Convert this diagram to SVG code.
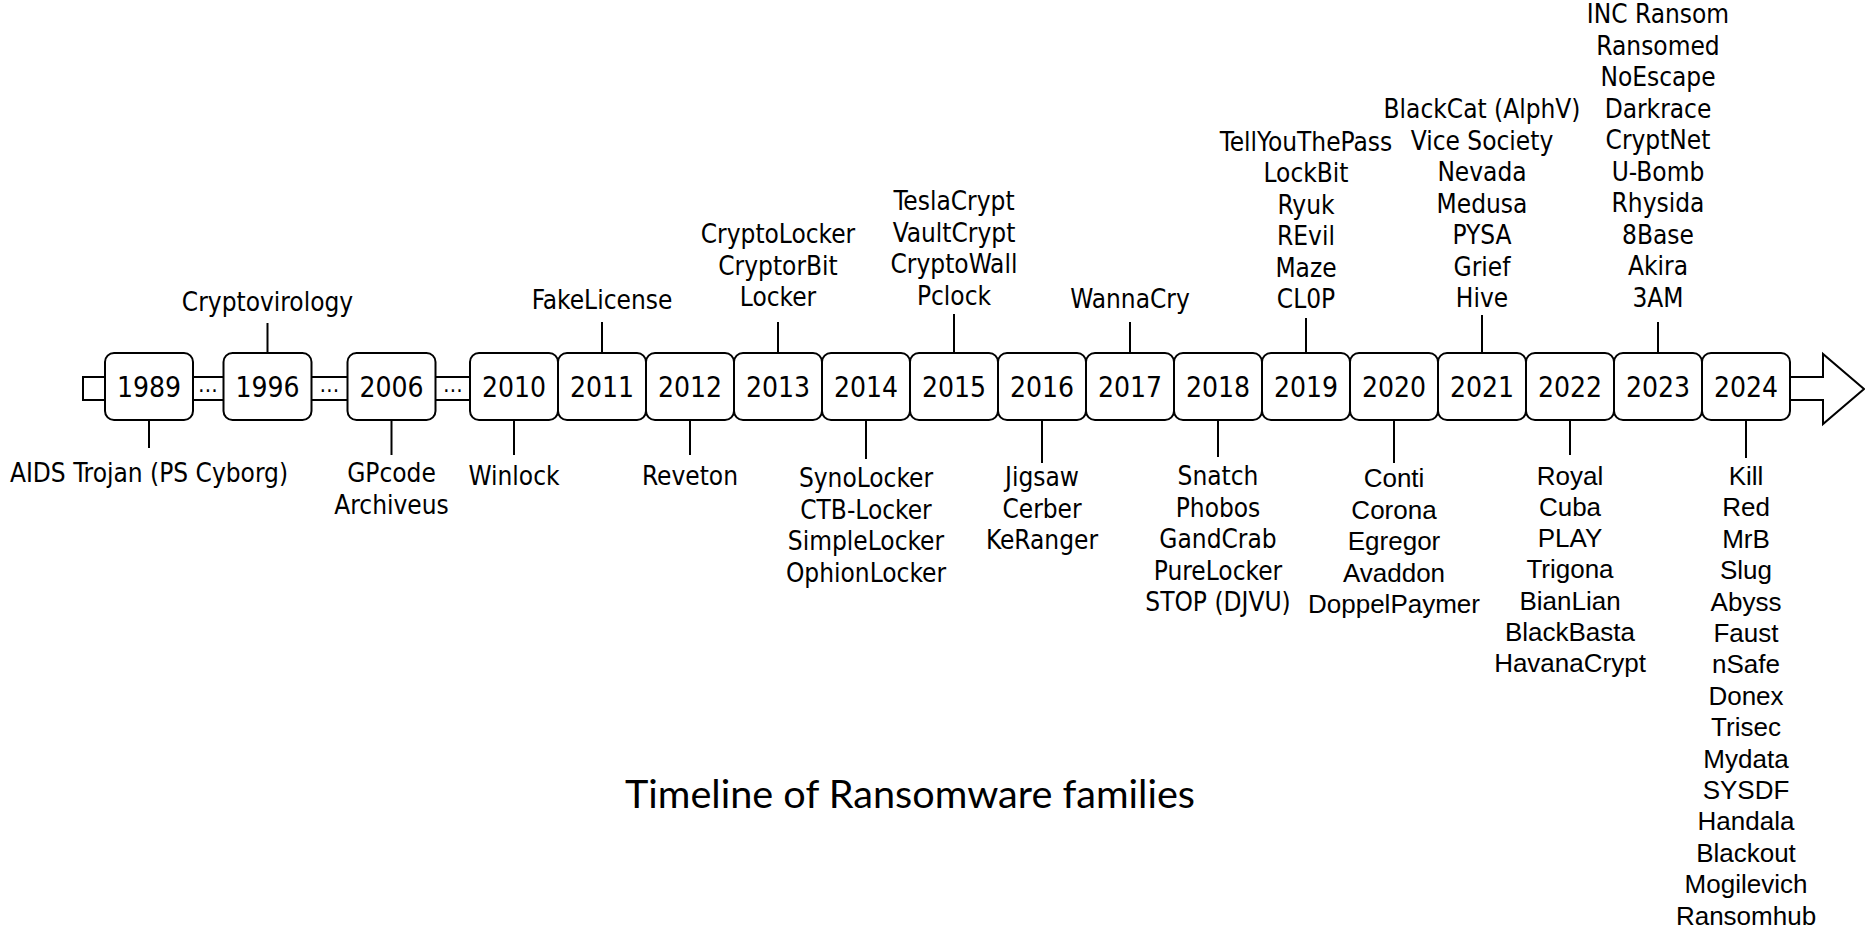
<svg xmlns="http://www.w3.org/2000/svg" width="1865" height="932" viewBox="0 0 1865 932">
  <style>
    .axis { fill: #fff; stroke: #000; stroke-width: 2; stroke-linejoin: miter; }
    .box { fill: #fff; stroke: #000; stroke-width: 2; }
    .tick { stroke: #000; stroke-width: 2; fill: none; }
    .yr { font-family: "DejaVu Sans Condensed", "DejaVu Sans", sans-serif; font-stretch: condensed; font-size: 28px; text-anchor: middle; fill: #000; }
    .dots { font-family: "DejaVu Sans Condensed", "DejaVu Sans", sans-serif; font-stretch: condensed; font-size: 22px; text-anchor: middle; fill: #000; }
    .lb { font-family: "DejaVu Sans Condensed", "DejaVu Sans", sans-serif; font-stretch: condensed; font-size: 26px; text-anchor: middle; fill: #000; }
    .ar { font-family: "Liberation Sans", Arial, sans-serif; font-size: 26px; text-anchor: middle; fill: #000; }
    .title { font-family: Lato, "Open Sans", sans-serif; font-size: 39px; text-anchor: middle; fill: #000; }
  </style>

  <!-- timeline axis: long band ending in a hollow arrow head -->
  <g id="axis">
    <path class="axis" d="M83,377 H1823 V354 L1864,389 L1823,424 V400 H83 Z"/>
    <text class="dots" x="208" y="392">…</text>
    <text class="dots" x="329.5" y="392">…</text>
    <text class="dots" x="453" y="392">…</text>
  </g>

  <!-- connectors between year boxes and their family lists -->
  <g id="connectors">
    <line class="tick" x1="149" y1="420" x2="149" y2="448"/>
    <line class="tick" x1="267.5" y1="323" x2="267.5" y2="353"/>
    <line class="tick" x1="391.5" y1="420" x2="391.5" y2="455"/>
    <line class="tick" x1="514" y1="420" x2="514" y2="455"/>
    <line class="tick" x1="602" y1="322" x2="602" y2="353"/>
    <line class="tick" x1="690" y1="420" x2="690" y2="455"/>
    <line class="tick" x1="778" y1="322" x2="778" y2="353"/>
    <line class="tick" x1="866" y1="420" x2="866" y2="459"/>
    <line class="tick" x1="954" y1="314" x2="954" y2="353"/>
    <line class="tick" x1="1042" y1="420" x2="1042" y2="463"/>
    <line class="tick" x1="1130" y1="322" x2="1130" y2="353"/>
    <line class="tick" x1="1218" y1="420" x2="1218" y2="457"/>
    <line class="tick" x1="1306" y1="318" x2="1306" y2="353"/>
    <line class="tick" x1="1394" y1="420" x2="1394" y2="463"/>
    <line class="tick" x1="1482" y1="315" x2="1482" y2="353"/>
    <line class="tick" x1="1570" y1="420" x2="1570" y2="455"/>
    <line class="tick" x1="1658" y1="322" x2="1658" y2="353"/>
    <line class="tick" x1="1746" y1="420" x2="1746" y2="458"/>
  </g>

  <!-- year nodes -->
  <g id="y1989">
    <rect class="box" x="105" y="353" width="88" height="67" rx="9"/>
    <text class="yr" x="149" y="397">1989</text>
    <text class="lb" x="149" y="482">AIDS Trojan (PS Cyborg)</text>
  </g>
  <g id="y1996">
    <rect class="box" x="223.5" y="353" width="88" height="67" rx="9"/>
    <text class="yr" x="267.5" y="397">1996</text>
    <text class="lb" x="267.5" y="311">Cryptovirology</text>
  </g>
  <g id="y2006">
    <rect class="box" x="347.5" y="353" width="88" height="67" rx="9"/>
    <text class="yr" x="391.5" y="397">2006</text>
    <text class="lb"><tspan x="391.5" y="482">GPcode</tspan><tspan x="391.5" y="513.5">Archiveus</tspan></text>
  </g>
  <g id="y2010">
    <rect class="box" x="470" y="353" width="88" height="67" rx="9"/>
    <text class="yr" x="514" y="397">2010</text>
    <text class="lb" x="514" y="485">Winlock</text>
  </g>
  <g id="y2011">
    <rect class="box" x="558" y="353" width="88" height="67" rx="9"/>
    <text class="yr" x="602" y="397">2011</text>
    <text class="lb" x="602" y="309">FakeLicense</text>
  </g>
  <g id="y2012">
    <rect class="box" x="646" y="353" width="88" height="67" rx="9"/>
    <text class="yr" x="690" y="397">2012</text>
    <text class="lb" x="690" y="485">Reveton</text>
  </g>
  <g id="y2013">
    <rect class="box" x="734" y="353" width="88" height="67" rx="9"/>
    <text class="yr" x="778" y="397">2013</text>
    <text class="lb"><tspan x="778" y="243">CryptoLocker</tspan><tspan x="778" y="274.5">CryptorBit</tspan><tspan x="778" y="306">Locker</tspan></text>
  </g>
  <g id="y2014">
    <rect class="box" x="822" y="353" width="88" height="67" rx="9"/>
    <text class="yr" x="866" y="397">2014</text>
    <text class="lb"><tspan x="866" y="487">SynoLocker</tspan><tspan x="866" y="518.5">CTB-Locker</tspan><tspan x="866" y="550">SimpleLocker</tspan><tspan x="866" y="581.5">OphionLocker</tspan></text>
  </g>
  <g id="y2015">
    <rect class="box" x="910" y="353" width="88" height="67" rx="9"/>
    <text class="yr" x="954" y="397">2015</text>
    <text class="lb"><tspan x="954" y="210">TeslaCrypt</tspan><tspan x="954" y="241.5">VaultCrypt</tspan><tspan x="954" y="273">CryptoWall</tspan><tspan x="954" y="304.5">Pclock</tspan></text>
  </g>
  <g id="y2016">
    <rect class="box" x="998" y="353" width="88" height="67" rx="9"/>
    <text class="yr" x="1042" y="397">2016</text>
    <text class="lb"><tspan x="1042" y="486">Jigsaw</tspan><tspan x="1042" y="517.5">Cerber</tspan><tspan x="1042" y="549">KeRanger</tspan></text>
  </g>
  <g id="y2017">
    <rect class="box" x="1086" y="353" width="88" height="67" rx="9"/>
    <text class="yr" x="1130" y="397">2017</text>
    <text class="lb" x="1130" y="308">WannaCry</text>
  </g>
  <g id="y2018">
    <rect class="box" x="1174" y="353" width="88" height="67" rx="9"/>
    <text class="yr" x="1218" y="397">2018</text>
    <text class="lb"><tspan x="1218" y="485">Snatch</tspan><tspan x="1218" y="516.5">Phobos</tspan><tspan x="1218" y="548">GandCrab</tspan><tspan x="1218" y="579.5">PureLocker</tspan><tspan x="1218" y="611">STOP (DJVU)</tspan></text>
  </g>
  <g id="y2019">
    <rect class="box" x="1262" y="353" width="88" height="67" rx="9"/>
    <text class="yr" x="1306" y="397">2019</text>
    <text class="lb"><tspan x="1306" y="150.5">TellYouThePass</tspan><tspan x="1306" y="182">LockBit</tspan><tspan x="1306" y="213.5">Ryuk</tspan><tspan x="1306" y="245">REvil</tspan><tspan x="1306" y="276.5">Maze</tspan><tspan x="1306" y="308">CL0P</tspan></text>
  </g>
  <g id="y2020">
    <rect class="box" x="1350" y="353" width="88" height="67" rx="9"/>
    <text class="yr" x="1394" y="397">2020</text>
    <text class="ar"><tspan x="1394" y="487">Conti</tspan><tspan x="1394" y="518.5">Corona</tspan><tspan x="1394" y="550">Egregor</tspan><tspan x="1394" y="581.5">Avaddon</tspan><tspan x="1394" y="613">DoppelPaymer</tspan></text>
  </g>
  <g id="y2021">
    <rect class="box" x="1438" y="353" width="88" height="67" rx="9"/>
    <text class="yr" x="1482" y="397">2021</text>
    <text class="lb"><tspan x="1482" y="118">BlackCat (AlphV)</tspan><tspan x="1482" y="149.5">Vice Society</tspan><tspan x="1482" y="181">Nevada</tspan><tspan x="1482" y="212.5">Medusa</tspan><tspan x="1482" y="244">PYSA</tspan><tspan x="1482" y="275.5">Grief</tspan><tspan x="1482" y="307">Hive</tspan></text>
  </g>
  <g id="y2022">
    <rect class="box" x="1526" y="353" width="88" height="67" rx="9"/>
    <text class="yr" x="1570" y="397">2022</text>
    <text class="ar"><tspan x="1570" y="485">Royal</tspan><tspan x="1570" y="516">Cuba</tspan><tspan x="1570" y="547">PLAY</tspan><tspan x="1570" y="578">Trigona</tspan><tspan x="1570" y="610">BianLian</tspan><tspan x="1570" y="641">BlackBasta</tspan><tspan x="1570" y="672">HavanaCrypt</tspan></text>
  </g>
  <g id="y2023">
    <rect class="box" x="1614" y="353" width="88" height="67" rx="9"/>
    <text class="yr" x="1658" y="397">2023</text>
    <text class="lb"><tspan x="1658" y="23">INC Ransom</tspan><tspan x="1658" y="54.5">Ransomed</tspan><tspan x="1658" y="86">NoEscape</tspan><tspan x="1658" y="117.5">Darkrace</tspan><tspan x="1658" y="149">CryptNet</tspan><tspan x="1658" y="180.5">U-Bomb</tspan><tspan x="1658" y="212">Rhysida</tspan><tspan x="1658" y="243.5">8Base</tspan><tspan x="1658" y="275">Akira</tspan><tspan x="1658" y="306.5">3AM</tspan></text>
  </g>
  <g id="y2024">
    <rect class="box" x="1702" y="353" width="88" height="67" rx="9"/>
    <text class="yr" x="1746" y="397">2024</text>
    <text class="ar"><tspan x="1746" y="485">Kill</tspan><tspan x="1746" y="516.4">Red</tspan><tspan x="1746" y="547.8">MrB</tspan><tspan x="1746" y="579.2">Slug</tspan><tspan x="1746" y="610.6">Abyss</tspan><tspan x="1746" y="642">Faust</tspan><tspan x="1746" y="673.4">nSafe</tspan><tspan x="1746" y="704.8">Donex</tspan><tspan x="1746" y="736.2">Trisec</tspan><tspan x="1746" y="767.6">Mydata</tspan><tspan x="1746" y="799">SYSDF</tspan><tspan x="1746" y="830.4">Handala</tspan><tspan x="1746" y="861.8">Blackout</tspan><tspan x="1746" y="893.2">Mogilevich</tspan><tspan x="1746" y="924.6">Ransomhub</tspan></text>
  </g>

  <g id="caption">
    <text class="title" x="910" y="808" textLength="570" lengthAdjust="spacingAndGlyphs">Timeline of Ransomware families</text>
  </g>
</svg>
